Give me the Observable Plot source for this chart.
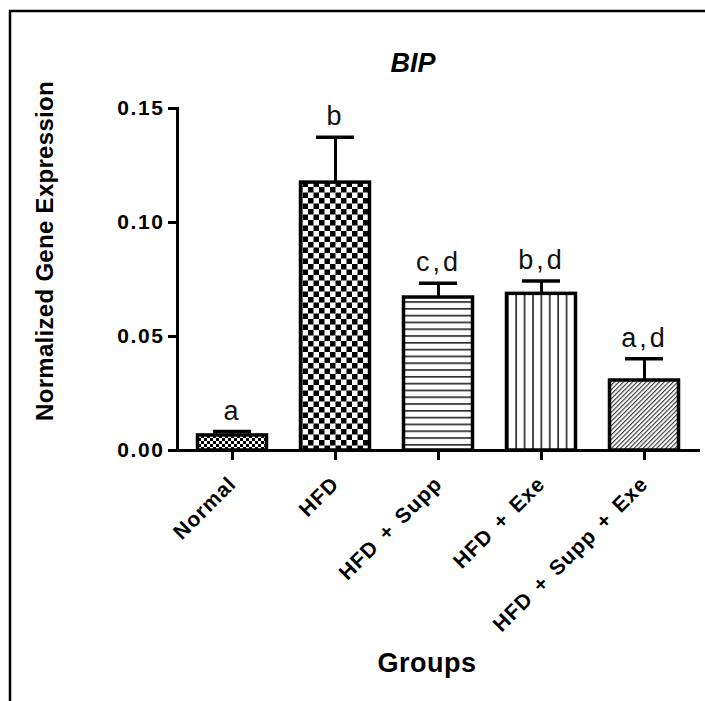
<!DOCTYPE html>
<html><head><meta charset="utf-8">
<script src="https://cdn.jsdelivr.net/npm/d3@7"></script>
<script src="https://cdn.jsdelivr.net/npm/@observablehq/plot@0.6"></script>
<style>html,body{margin:0;padding:0;background:#fff;overflow:hidden}</style>
</head><body><div id="chart"></div>
<script>
// ---- data ----
const groups = ["Normal", "HFD", "HFD + Supp", "HFD + Exe", "HFD + Supp + Exe"];
const means = [0.0066, 0.1175, 0.0671, 0.0687, 0.0307];
const errors = [0.0017, 0.0199, 0.0063, 0.0056, 0.0095];
const letters = ["a", "b", "c,d", "b,d", "a,d"];
const yTicks = [0, 0.05, 0.10, 0.15];
const titleText = "BIP";
const yLabelText = "Normalized Gene Expression";
const xLabelText = "Groups";

// ---- styles (not data) ----
const patternIds = ["pNormal", "pHFD", "pSupp", "pExe", "pBoth"];
const font = "'Liberation Sans', Arial, sans-serif";

const data = groups.map((g, i) => ({group: g, mean: means[i], top: means[i] + errors[i], letter: letters[i], idx: i}));

const chart = Plot.plot({
  width: 705, height: 701,
  marginLeft: 177, marginRight: 5, marginTop: 108, marginBottom: 251,
  style: {fontFamily: font, background: "white", color: "black"},
  x: {domain: groups, paddingInner: 0.3, paddingOuter: 0.1705, label: null, axis: null},
  y: {domain: [0, 0.15], label: null, axis: null},
  color: {type: "identity"},
  marks: [
    Plot.ruleX(data, {x: "group", y1: "mean", y2: "top", stroke: "black", strokeWidth: 3}),
    Plot.tickY(data, {x: "group", y: "top", stroke: "black", strokeWidth: 3.5, insetLeft: 17, insetRight: 17}),
    Plot.barY(data, {x: "group", y: "mean", fill: d => `url(#${patternIds[d.idx]})`, stroke: "black", strokeWidth: 3.5, insetLeft: 1.5, insetRight: 1.5}),
    Plot.text(data, {x: "group", y: "top", text: "letter", dy: -12, lineAnchor: "bottom", fontSize: 27, fill: "#111"}),
    Plot.ruleY([0], {stroke: "black", strokeWidth: 3}),
    Plot.frame({anchor: "left", stroke: "black", strokeWidth: 3}),
    Plot.axisY({ticks: yTicks, tickFormat: d3.format(".2f"), tickSize: 9, tickPadding: 4, strokeWidth: 3, fontSize: 21, fontWeight: "bold", label: null}),
    Plot.axisX({tickSize: 10, tickRotate: -45, tickPadding: 20, strokeWidth: 3, fontSize: 21, fontWeight: "bold", label: null})
  ]
});

const svg = d3.select(chart);
svg.selectAll('g[aria-label="y-axis tick label"] text').style("letter-spacing", "1.6px");
svg.selectAll('g[aria-label="x-axis tick label"] text').style("letter-spacing", "1px").style("word-spacing", "3px");
svg.selectAll('g[aria-label="text"] text').style("letter-spacing", "3px");

// patterns
const defs = svg.insert("defs", ":first-child");
let p = defs.append("pattern").attr("id", "pNormal").attr("patternUnits", "userSpaceOnUse").attr("width", 6).attr("height", 6);
p.append("rect").attr("width", 6).attr("height", 6).attr("fill", "white");
p.append("rect").attr("width", 3).attr("height", 3).attr("fill", "black");
p.append("rect").attr("x", 3).attr("y", 3).attr("width", 3).attr("height", 3).attr("fill", "black");
p = defs.append("pattern").attr("id", "pHFD").attr("patternUnits", "userSpaceOnUse").attr("width", 11).attr("height", 11);
p.append("rect").attr("width", 11).attr("height", 11).attr("fill", "white");
p.append("rect").attr("width", 5.5).attr("height", 5.5).attr("fill", "black");
p.append("rect").attr("x", 5.5).attr("y", 5.5).attr("width", 5.5).attr("height", 5.5).attr("fill", "black");
p = defs.append("pattern").attr("id", "pSupp").attr("patternUnits", "userSpaceOnUse").attr("width", 10).attr("height", 6.8);
p.append("rect").attr("width", 10).attr("height", 6.8).attr("fill", "white");
p.append("rect").attr("y", 2).attr("width", 10).attr("height", 1.6).attr("fill", "#222");
p = defs.append("pattern").attr("id", "pExe").attr("patternUnits", "userSpaceOnUse").attr("width", 8.4).attr("height", 10);
p.append("rect").attr("width", 8.4).attr("height", 10).attr("fill", "white");
p.append("rect").attr("x", 3).attr("width", 1.6).attr("height", 10).attr("fill", "#222");
p = defs.append("pattern").attr("id", "pBoth").attr("patternUnits", "userSpaceOnUse").attr("width", 3.2).attr("height", 10).attr("patternTransform", "rotate(45)");
p.append("rect").attr("width", 3.2).attr("height", 10).attr("fill", "white");
p.append("rect").attr("width", 1.1).attr("height", 10).attr("fill", "#333");

// outer border
svg.append("rect").attr("x", 10).attr("y", 11).attr("width", 900).attr("height", 900)
  .attr("fill", "none").attr("stroke", "black").attr("stroke-width", 2.5);

// titles
svg.append("text").attr("x", 413).attr("y", 72).attr("text-anchor", "middle")
  .attr("font-family", font).attr("font-size", 27).attr("font-weight", "bold").attr("font-style", "italic")
  .text(titleText);
svg.append("text").attr("transform", "translate(53,251) rotate(-90)").attr("text-anchor", "middle")
  .attr("font-family", font).attr("font-size", 24).attr("font-weight", "bold").style("letter-spacing", "0.3px")
  .text(yLabelText);
svg.append("text").attr("x", 427).attr("y", 672).attr("text-anchor", "middle")
  .attr("font-family", font).attr("font-size", 27).attr("font-weight", "bold").style("letter-spacing", "0.5px")
  .text(xLabelText);

document.getElementById("chart").appendChild(chart);
</script>
</body></html>
